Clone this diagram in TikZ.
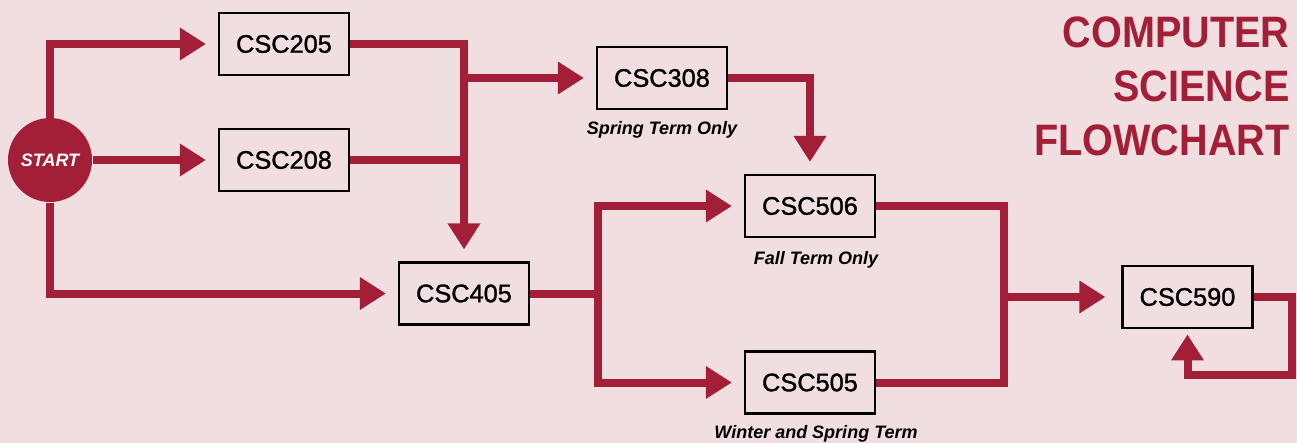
\documentclass[tikz,border=0pt]{standalone}
\usepackage{fontspec}
\setmainfont{Liberation Sans}
\usetikzlibrary{arrows.meta}
\definecolor{csred}{RGB}{163,31,55}
\definecolor{cspink}{RGB}{241,222,224}
\tikzset{every picture/.style={line width=0.75pt}}
\tikzset{
  course/.style={draw=black, line width=1.6pt, minimum width=97.5pt, minimum height=46.5pt, inner sep=0pt, font=\fontsize{19}{21}\selectfont\addfontfeatures{FakeBold=1.3}},
  termnote/.style={anchor=base, inner sep=0pt, font=\fontsize{13.5}{15}\selectfont\bfseries\itshape},
  titleline/.style={anchor=base east, inner sep=0pt, text=csred, font=\fontsize{33}{36}\selectfont\bfseries},
  route/.style={draw=csred, line width=6pt},
  flow/.style={route, -{Triangle[width=23.25pt,length=19.5pt]}, shorten >=9pt},
}

\begin{document}
\begin{tikzpicture}[x=0.75pt,y=0.75pt,yscale=-1]
  %background, 1297 x 443
  \fill[cspink] (0,0) rectangle (1297,443);
  \useasboundingbox (0,0) rectangle (1297,443);

  %Shape: Circle
  \node[circle, fill=csred, minimum size=63pt, inner sep=0pt, text=white, font=\fontsize{13.5}{15}\selectfont\bfseries\itshape] (start) at (50,160) {START};
  %Shape: Rectangle
  \node[course] (csc205) at (284,44) {CSC205};
  %Shape: Rectangle
  \node[course] (csc208) at (284,160) {CSC208};
  %Shape: Rectangle
  \node[course] (csc308) at (662,78) {CSC308};
  %Shape: Rectangle
  \node[course] (csc405) at (464,293.5) {CSC405};
  %Shape: Rectangle
  \node[course] (csc506) at (810,206) {CSC506};
  %Shape: Rectangle
  \node[course] (csc505) at (810,382.5) {CSC505};
  %Shape: Rectangle
  \node[course] (csc590) at (1187.5,297) {CSC590};

  % Text Node
  \node[termnote] (note308) at (662,134) {Spring Term Only};
  % Text Node
  \node[termnote] (note506) at (816,264) {Fall Term Only};
  % Text Node
  \node[termnote] (note505) at (816,438) {Winter and Spring Term};

  % Text Node
  \node[titleline] (title1) at (1290,47) {\scalebox{0.9}[1]{COMPUTER}};
  \node[titleline] (title2) at (1290,101) {\scalebox{0.9}[1]{SCIENCE}};
  \node[titleline] (title3) at (1290,155) {\scalebox{0.9}[1]{FLOWCHART}};

  %Right Arrow
  \draw[flow] (start.north) |- (csc205.west);
  \draw[flow] (start.east) -- (csc208.west);
  \draw[flow] (start.south) |- (csc405.west);
  %Down Arrow
  \draw[flow] (csc205.east) -| (csc405.north);
  \draw[route] (csc208.east) -- (csc405.north |- csc208.east);
  \draw[flow] (csc405.north |- csc308.west) -- (csc308.west);
  \draw[flow] (csc308.east) -| (csc506.north);
  %split after CSC405
  \coordinate (split405) at (598,293.5);
  \draw[flow] (csc405.east) -- (split405) |- (csc506.west);
  \draw[flow] (split405) |- (csc505.west);
  %merge before CSC590
  \coordinate (merge590) at (1004,297);
  \draw[route] (csc506.east) -| (merge590);
  \draw[route] (csc505.east) -| (merge590);
  \draw[flow, shorten >=12pt] (merge590) -- (csc590.west);
  %loop on CSC590
  \draw[flow, shorten >=4pt] (csc590.east) -- ++(38,0) -- ++(0,78) -| (csc590.south);
\end{tikzpicture}
\end{document}
